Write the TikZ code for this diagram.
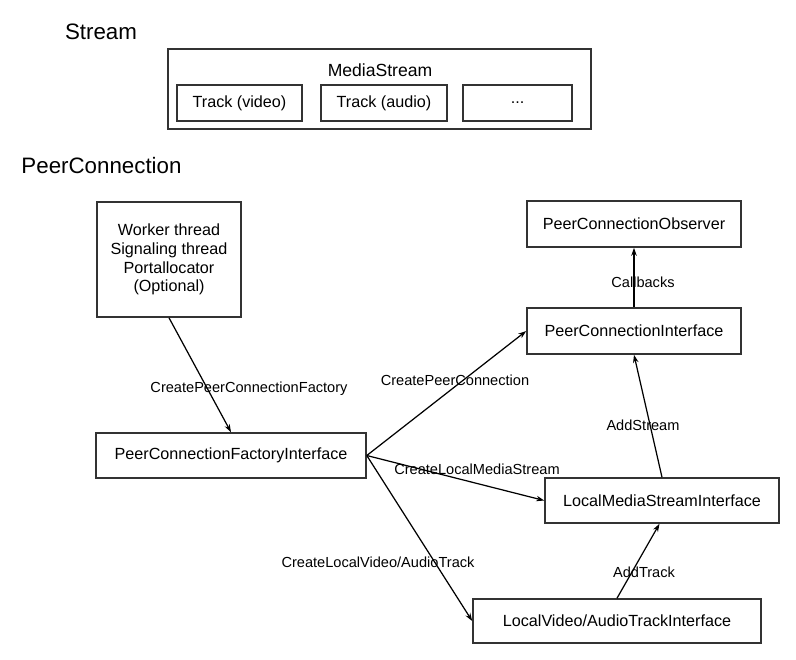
\documentclass[tikz,border=0pt]{standalone}
\usepackage{fontspec}
\setmainfont{Liberation Sans}
\usepackage{tikz}
\usetikzlibrary{arrows,arrows.meta}

\tikzset{
	box/.style={draw=black!80,line width=0.9pt,inner sep=0pt,font=\fontsize{9.2}{10.6}\selectfont,align=center},
	lbl/.style={inner sep=0pt,font=\fontsize{8.3}{10}\selectfont},
	title/.style={inner sep=0pt,font=\fontsize{12.7}{15}\selectfont},
	arr/.style={line width=0.7pt,-{Stealth[length=1.6mm,width=1.1mm]}}
}

\begin{document}
\begin{tikzpicture}
	\useasboundingbox[fill=white] (0,0) rectangle (15.92,-13.18);
	%TITLES
	\node[title] (streamtitle) at (2.02,-0.64) {Stream};
	\node[title] (pctitle) at (2.03,-3.32) {PeerConnection};
	
	%STREAM
	\node[box,minimum width=8.46cm,minimum height=1.6cm] (msbox) at (7.59,-1.78) {};	%outer box
	\node[inner sep=0pt,font=\fontsize{10}{12}\selectfont] (msname) at (7.6,-1.4) {MediaStream};
	\node[box,minimum width=2.5cm,minimum height=0.72cm] (trackv) at (4.79,-2.06) {Track (video)};
	\node[box,minimum width=2.52cm,minimum height=0.72cm] (tracka) at (7.68,-2.06) {Track (audio)};
	\node[box,minimum width=2.18cm,minimum height=0.72cm] (trackmore) at (10.35,-2.06) {...};
	
	%PEERCONNECTION BOXES
	\node[box,minimum width=2.88cm,minimum height=2.3cm] (worker) at (3.38,-5.19)
		{Worker thread\\Signaling thread\\Portallocator\\(Optional)};
	\node[box,minimum width=5.4cm,minimum height=0.9cm] (factory) at (4.62,-9.11) {PeerConnectionFactoryInterface};
	\node[box,minimum width=4.28cm,minimum height=0.92cm] (observer) at (12.68,-4.48) {PeerConnectionObserver};
	\node[box,minimum width=4.28cm,minimum height=0.92cm] (pci) at (12.68,-6.62) {PeerConnectionInterface};
	\node[box,minimum width=4.68cm,minimum height=0.9cm] (lms) at (13.24,-10.01) {LocalMediaStreamInterface};
	\node[box,minimum width=5.76cm,minimum height=0.88cm] (lvt) at (12.34,-12.42) {LocalVideo/AudioTrackInterface};
	
	%ARROWS
	\draw[arr] (worker.south)--(factory.north);
	\draw[arr] (factory.east)--(pci.west);
	\draw[arr] (factory.east)--(lms.west);
	\draw[arr] (factory.east)--(lvt.west);
	\draw[arr] (pci.north)--(observer.south);
	\draw[arr] (lms.north)--(pci.south);
	\draw[arr] (lvt.north)--([xshift=-0.05cm]lms.south);
	
	%LABELS
	\node[lbl] (lfactory) at (4.98,-7.78) {CreatePeerConnectionFactory};
	\node[lbl] (lpc) at (9.1,-7.6) {CreatePeerConnection};
	\node[lbl] (lms-create) at (9.54,-9.38) {CreateLocalMediaStream};
	\node[lbl] (ltrack) at (7.56,-11.24) {CreateLocalVideo/AudioTrack};
	\node[lbl] (lcallbacks) at (12.86,-5.64) {Callbacks};
	\node[lbl] (laddstream) at (12.86,-8.5) {AddStream};
	\node[lbl] (laddtrack) at (12.88,-11.44) {AddTrack};
\end{tikzpicture}
\end{document}
